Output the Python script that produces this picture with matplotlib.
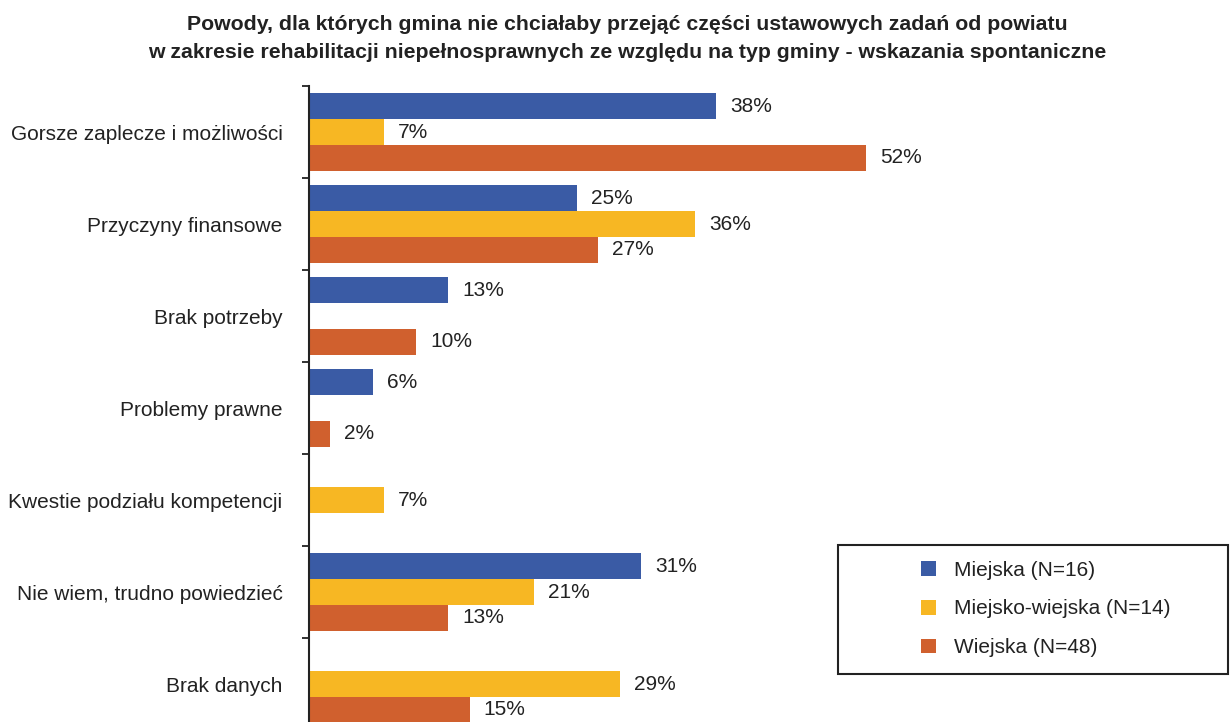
import numpy as np
import matplotlib.pyplot as plt
from matplotlib.patches import Rectangle

plt.rcParams['font.family'] = ['Liberation Sans', 'DejaVu Sans']

categories = ['Gorsze zaplecze i możliwości', 'Przyczyny finansowe', 'Brak potrzeby',
              'Problemy prawne', 'Kwestie podziału kompetencji',
              'Nie wiem, trudno powiedzieć', 'Brak danych']
miejska = [38, 25, 13, 6, 0, 31, 0]
miejsko_wiejska = [7, 36, 0, 0, 7, 21, 29]
wiejska = [52, 27, 10, 2, 0, 13, 15]
series_names = ['Miejska (N=16)', 'Miejsko-wiejska (N=14)', 'Wiejska (N=48)']
colors = ['#3A5BA5', '#F7B723', '#D0602E']

fig = plt.figure(figsize=(12.3, 7.22), dpi=100)
# axes bottom runs slightly below the image edge, as in the original
ax = fig.add_axes([309 / 1230, -8 / 722, 911 / 1230, 644 / 722])

ind = np.arange(len(categories))
h = 0.28
for k, (vals, name, col) in enumerate(zip([miejska, miejsko_wiejska, wiejska], series_names, colors)):
    pos = ind + (k - 1) * h
    ax.barh(pos, vals, h, color=col, label=name)
    for p, v in zip(pos, vals):
        if v > 0:
            ax.text(v + 1.3, p, f'{v}%', va='center', ha='left', fontsize=15, color='#222222')

ax.set_xlim(0, 85)
ax.set_ylim(len(categories) - 0.5, -0.5)
ax.set_yticks(ind)
ax.set_yticklabels(categories, fontsize=15, color='#222222')
ax.set_yticks(np.arange(len(categories) + 1) - 0.5, minor=True)
ax.tick_params(axis='y', which='major', length=0, pad=19)
ax.tick_params(axis='y', which='minor', length=5, width=1.3, color='#222222')
ax.set_xticks([])
for s in ['top', 'right', 'bottom']:
    ax.spines[s].set_visible(False)
ax.spines['left'].set_linewidth(1.5)
ax.spines['left'].set_color('#222222')

# legend box drawn separately so the entries can sit indented inside it
fig.patches.append(Rectangle((838 / 1230, (722 - 674) / 722), 390 / 1230, 129 / 722,
                             transform=fig.transFigure, fill=False, edgecolor='#222222', linewidth=1.5))
leg = ax.legend(loc='center left', bbox_to_anchor=(921 / 1230, (722 - 609) / 722),
                bbox_transform=fig.transFigure, fontsize=15, frameon=False,
                handlelength=0.72, handleheight=0.72, labelspacing=0.95,
                handletextpad=0.85, borderpad=0, borderaxespad=0)
for t in leg.get_texts():
    t.set_color('#222222')

fig.text(0.51, 0.946, 'Powody, dla których gmina nie chciałaby przejąć części ustawowych zadań od powiatu\n'
         'w zakresie rehabilitacji niepełnosprawnych ze względu na typ gminy - wskazania spontaniczne',
         ha='center', va='center', fontsize=15.3, fontweight='bold', linespacing=1.6, color='#222222')

fig.savefig('out.png', dpi=100)
